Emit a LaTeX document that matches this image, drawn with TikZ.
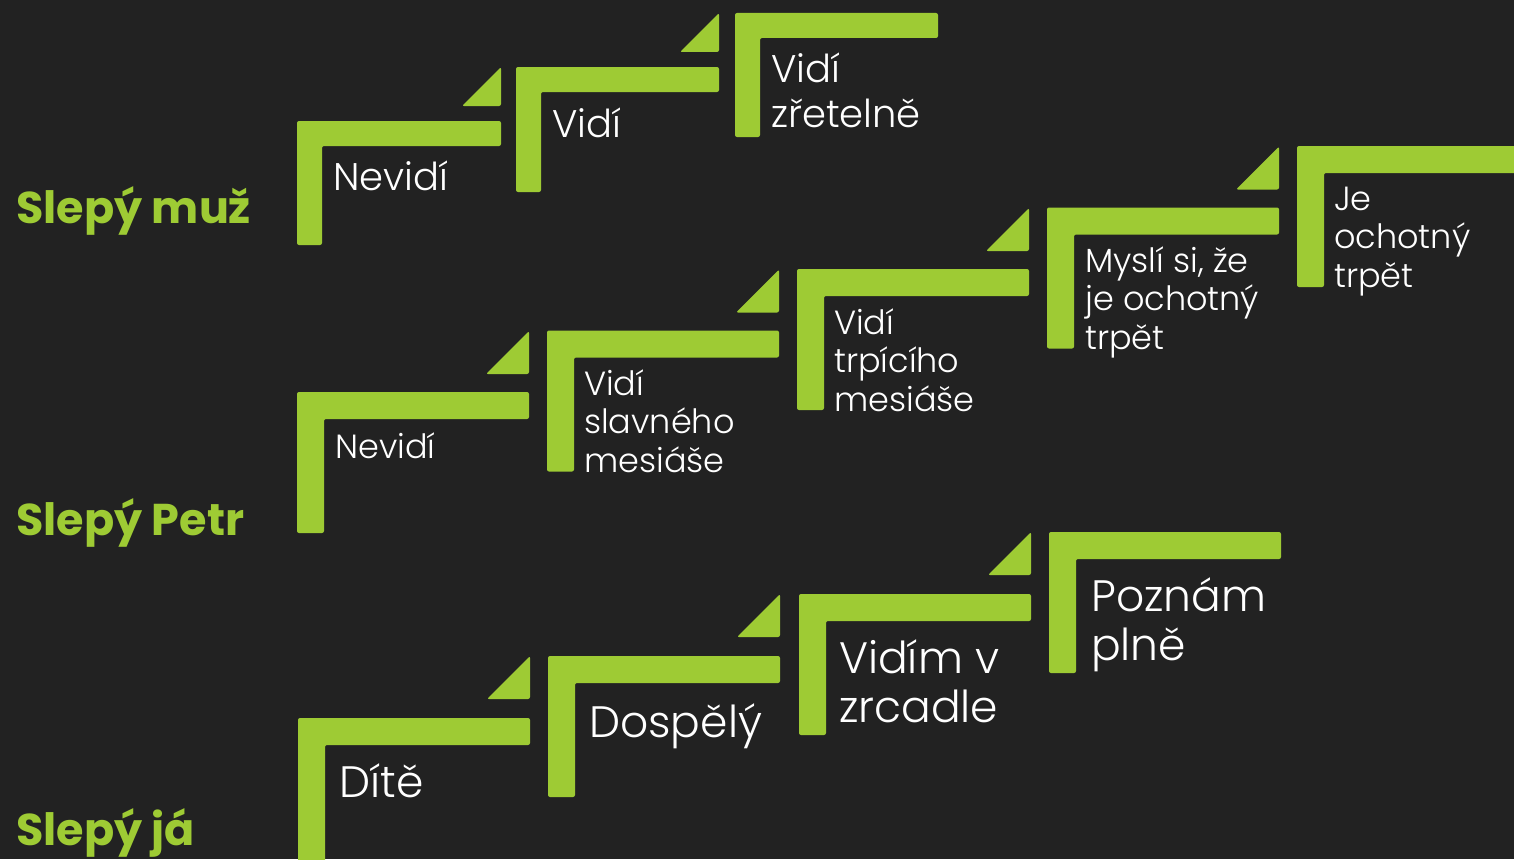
\documentclass[tikz,border=0pt]{standalone}
\usepackage{fontspec}
\setmainfont{Poppins}
\newfontfamily\lightfont{Poppins Light}
\definecolor{bg}{HTML}{222222}
\definecolor{lime}{HTML}{9ECB34}
\tikzset{
  bar/.style={fill=lime, rounded corners=2pt},
  rowlabel/.style={anchor=base west, inner sep=0pt, text=lime, font=\bfseries\fontsize{44.5}{50}\selectfont},
  txt/.style={anchor=base west, inner sep=0pt, text=white, align=left},
  txtA/.style={txt, font=\lightfont\fontsize{38.5}{45}\selectfont},
  txtB/.style={txt, font=\lightfont\fontsize{33.5}{38.5}\selectfont},
  txtC/.style={txt, font=\lightfont\fontsize{44}{49}\selectfont},
}
\newcommand\Lstep[5]{%
  \fill[bar] (#1,#2) -- (#1+#3,#2) -- (#1+#3,#2+#5) -- (#1+#5,#2+#5) -- (#1+#5,#2+#4) -- (#1,#2+#4) -- cycle;}
\newcommand\Ltri[3]{%
  \fill[bar] (#1,#2) -- (#1,#2-#3) -- (#1-#3,#2) -- cycle;}
\begin{document}
\begin{tikzpicture}[x=1pt,y=-1pt]
\fill[bg] (0,0) rectangle (1514,859);
\useasboundingbox (0,0) rectangle (1514,859);
\clip (0,0) rectangle (1514,859);
% Row 1
\Lstep{297}{121}{204}{124}{25}
\Lstep{516}{67}{203}{125}{25}
\Lstep{735}{13}{203}{124}{25}
\Ltri{501}{106}{39}
\Ltri{719}{52}{39}
% Row 2
\Lstep{297}{392}{232}{141}{27}
\Lstep{547}{330.5}{232}{141}{27}
\Lstep{797}{269}{232}{141}{27}
\Lstep{1047}{207.5}{232}{141}{27}
\Lstep{1297}{146}{232}{141}{27}
\Ltri{529}{374}{43}
\Ltri{779}{312.5}{43}
\Ltri{1029}{251}{43}
\Ltri{1279}{189.5}{43}
% Row 3
\Lstep{298}{718}{232}{150}{27}
\Lstep{548}{656}{232}{141}{27}
\Lstep{799}{594}{232}{141}{27}
\Lstep{1049}{532}{232}{141}{27}
\Ltri{530}{699}{43}
\Ltri{780}{637}{43}
\Ltri{1031}{575}{43}
% labels
\node[rowlabel] (l1) at (16,223) {Slepý muž};
\node[rowlabel] (l2) at (16,535) {Slepý Petr};
\node[rowlabel] (l3) at (16,845) {Slepý já};
% row 1 texts
\node[txtA] (a1) at (333,190) {Nevidí};
\node[txtA] (a2) at (552,137) {Vidí};
\node[txtA] (a3) at (771,127) {Vidí\\zřetelně};
% row 2 texts
\node[txtB] (b1) at (335,458) {Nevidí};
\node[txtB] (b2) at (584,472) {Vidí\\slavného\\mesiáše};
\node[txtB] (b3) at (834,411) {Vidí\\trpícího\\mesiáše};
\node[txtB] (b4) at (1085,349) {Myslí si, že\\je ochotný\\trpět};
\node[txtB] (b5) at (1334,287) {Je\\ochotný\\trpět};
% row 3 texts
\node[txtC] (c1) at (339,797) {Dítě};
\node[txtC] (c2) at (589,737) {Dospělý};
\node[txtC] (c3) at (839,722) {Vidím v\\zrcadle};
\node[txtC] (c4) at (1091,660) {Poznám\\plně};
\end{tikzpicture}
\end{document}
